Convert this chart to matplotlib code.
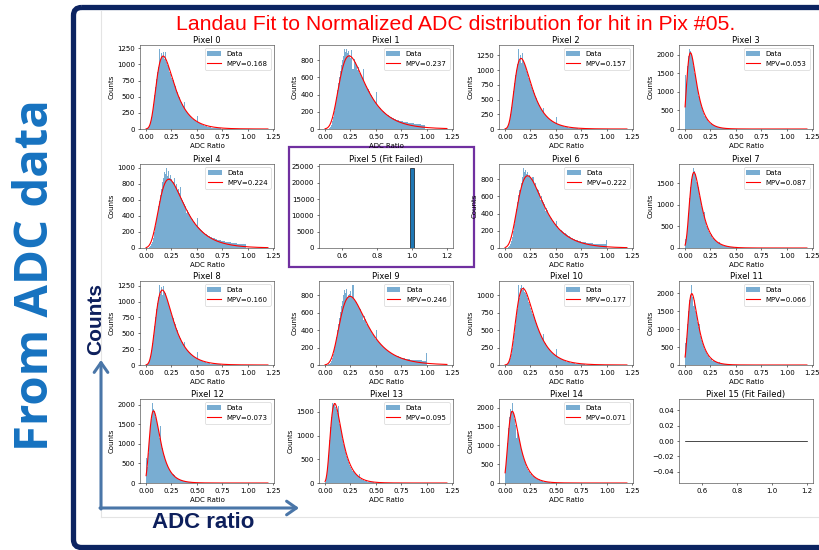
import numpy as np
import matplotlib
matplotlib.use("Agg")
import matplotlib.pyplot as plt
from matplotlib.patches import Rectangle, FancyBboxPatch
from matplotlib.ticker import MultipleLocator

# ---------------------------------------------------------------- data
# Normalized ADC ratio histograms, 100 bins of width 0.01 starting at 0.
bin_width = 0.01

counts_pix00 = [4, 10, 30, 60, 110, 185, 270, 395, 520, 650, 770, 880, 960, 1240, 1060, 1180, 1120, 1190, 1090, 1200,
                1040, 990, 960, 880, 860, 790, 760, 690, 660, 600, 570, 510, 490, 440, 420, 380, 360, 420, 300, 280,
                255, 230, 210, 200, 175, 160, 150, 140, 125, 115, 200, 95, 88, 80, 72, 64, 58, 52, 46, 41,
                37, 33, 29, 26, 23, 20, 18, 16, 14, 12, 11, 10, 9, 8, 7, 6, 5, 5, 4, 4,
                3, 3, 3, 2, 2, 2, 2, 1, 1, 1, 1, 1, 1, 1]
counts_pix01 = [0, 0, 2, 5, 12, 25, 50, 90, 140, 210, 290, 370, 450, 530, 600, 670, 740, 800, 850, 930,
                900, 930, 880, 910, 860, 830, 920, 700, 810, 780, 740, 690, 720, 650, 640, 600, 590, 700, 540, 520,
                500, 470, 460, 440, 400, 390, 370, 350, 330, 310, 430, 280, 270, 250, 240, 225, 215, 205, 195, 185,
                175, 168, 160, 152, 145, 138, 132, 126, 120, 115, 110, 106, 102, 98, 95, 92, 89, 86, 84, 82,
                80, 77, 75, 73, 71, 69, 67, 65, 63, 61, 59, 57, 55, 53, 51, 49, 47, 45]
counts_pix02 = [4, 17, 40, 80, 150, 250, 370, 500, 650, 790, 920, 1010, 1100, 1360, 1150, 1250, 1120, 1300, 1150, 1120,
                1050, 990, 940, 870, 830, 760, 720, 660, 620, 560, 530, 470, 440, 410, 360, 340, 310, 350, 260, 240,
                220, 200, 185, 170, 155, 145, 130, 120, 110, 100, 200, 82, 74, 66, 60, 54, 48, 43, 38, 34,
                30, 27, 24, 21, 19, 17, 15, 13, 12, 11, 10, 9, 8, 7, 6, 6, 5, 5, 4, 4,
                3, 3, 3, 2, 2, 2, 2, 1, 1, 1, 1, 1, 1, 1]
counts_pix03 = [1450, 1150, 1700, 1950, 2150, 2100, 1980, 1900, 1700, 1500, 1450, 1250, 1100, 880, 800, 700, 580, 500, 420, 360,
                310, 265, 230, 195, 170, 145, 160, 105, 90, 78, 66, 57, 49, 60, 36, 30, 26, 22, 19, 16,
                13, 11, 10, 8, 7, 6, 5, 4, 4, 3, 3, 2, 2, 1, 1]
counts_pix04 = [0, 1, 4, 10, 22, 45, 80, 130, 195, 270, 350, 430, 520, 590, 660, 740, 820, 880, 950, 920,
                1000, 900, 960, 880, 910, 860, 830, 870, 760, 800, 720, 740, 690, 760, 620, 600, 580, 550, 530, 440,
                470, 450, 420, 400, 380, 360, 340, 320, 300, 285, 380, 260, 245, 232, 220, 208, 198, 188, 178, 170,
                162, 155, 148, 142, 136, 130, 125, 120, 115, 110, 106, 102, 98, 95, 92, 89, 86, 83, 80, 78,
                76, 74, 72, 70, 68, 66, 64, 62, 60, 58, 56, 55, 54, 52, 51, 50, 49, 48]
counts_pix06 = [0, 1, 4, 10, 22, 45, 80, 130, 200, 280, 360, 450, 540, 620, 680, 660, 760, 820, 930, 880,
                910, 860, 880, 840, 850, 820, 800, 830, 740, 760, 700, 690, 680, 640, 560, 600, 560, 540, 510, 430,
                460, 440, 400, 380, 360, 345, 330, 310, 290, 275, 310, 250, 238, 225, 215, 205, 195, 186, 178, 170,
                160, 150, 142, 134, 127, 120, 114, 108, 102, 97, 92, 88, 84, 80, 77, 74, 71, 68, 66, 64,
                62, 60, 58, 56, 55, 54, 53, 52, 51, 50, 49, 48, 47, 46, 45, 44, 43, 42, 41, 95]
counts_pix07 = [200, 280, 520, 820, 1150, 1420, 1600, 1700, 1850, 1780, 1700, 1520, 1460, 1400, 1200, 1100, 980, 880, 760, 830,
                610, 520, 460, 400, 345, 300, 330, 230, 200, 175, 150, 130, 115, 140, 88, 76, 66, 57, 49, 42,
                36, 31, 27, 23, 20, 17, 15, 13, 11, 9, 8, 7, 6, 5, 4, 3]
counts_pix08 = [3, 14, 35, 70, 135, 230, 345, 470, 610, 750, 880, 980, 1070, 1260, 1120, 1230, 1100, 1250, 1150, 1130,
                1060, 1010, 960, 890, 850, 780, 740, 680, 640, 580, 550, 490, 460, 430, 380, 355, 325, 370, 275, 255,
                235, 215, 198, 182, 166, 154, 140, 128, 118, 108, 210, 90, 81, 73, 66, 59, 53, 47, 42, 37,
                33, 30, 26, 23, 21, 19, 17, 15, 13, 12, 11, 10, 9, 8, 7, 6, 5, 5, 4, 4,
                3, 3, 3, 2, 2, 2, 2, 1, 1, 1, 1, 1, 1, 1]
counts_pix09 = [0, 1, 3, 7, 15, 28, 50, 85, 130, 185, 250, 320, 400, 470, 540, 610, 680, 740, 800, 860,
                830, 870, 780, 800, 820, 850, 780, 920, 760, 740, 720, 700, 680, 660, 640, 600, 580, 520, 560, 530,
                470, 460, 440, 420, 400, 380, 360, 340, 320, 300, 400, 280, 265, 250, 238, 226, 214, 203, 193, 183,
                174, 165, 157, 149, 142, 135, 129, 123, 117, 112, 107, 102, 98, 94, 90, 86, 83, 80, 77, 74,
                71, 69, 67, 65, 63, 61, 60, 59, 58, 57, 56, 55, 54, 53, 52, 51, 50, 49, 48, 140]
counts_pix10 = [2, 6, 15, 32, 60, 105, 165, 245, 345, 460, 580, 700, 810, 1150, 960, 1100, 1150, 1080, 1120, 1050,
                1030, 1000, 960, 910, 870, 820, 780, 740, 690, 650, 600, 560, 520, 480, 450, 420, 390, 450, 330, 310,
                285, 262, 242, 225, 207, 192, 178, 165, 152, 140, 230, 118, 108, 99, 90, 82, 74, 67, 61, 55,
                50, 45, 41, 37, 33, 30, 27, 24, 22, 20, 18, 16, 14, 13, 12, 11, 10, 9, 8, 7,
                6, 6, 5, 5, 4, 4, 3, 3, 3, 2, 2, 2, 2, 1, 1, 1]
counts_pix11 = [600, 750, 1150, 1500, 1800, 1950, 2230, 1900, 1650, 1800, 1500, 1380, 1200, 1050, 1150, 800, 700, 600, 520, 440,
                380, 330, 280, 240, 200, 175, 190, 125, 108, 92, 79, 67, 57, 70, 41, 35, 30, 25, 21, 18,
                15, 13, 11, 9, 8, 7, 6, 5, 4, 3, 3, 2, 2, 1]
counts_pix12 = [650, 420, 780, 1150, 1450, 1650, 2050, 1900, 1850, 1700, 1600, 1480, 1380, 1150, 1450, 1000, 900, 780, 690, 600,
                520, 450, 390, 340, 300, 260, 225, 195, 165, 140, 120, 105, 90, 78, 66, 57, 49, 42, 36, 31,
                26, 22, 19, 16, 14, 12, 10, 8, 7, 6, 5, 4, 3, 2, 2]
counts_pix13 = [30, 120, 320, 600, 900, 1180, 1400, 1690, 1650, 1690, 1600, 1560, 1480, 1620, 1250, 1200, 1050, 920, 820, 750,
                660, 570, 500, 440, 380, 340, 290, 250, 220, 190, 160, 140, 120, 200, 88, 75, 65, 55, 47, 40,
                34, 29, 25, 21, 18, 15, 13, 11, 9, 8, 6, 5, 4, 3, 2]
counts_pix14 = [350, 700, 1050, 1450, 1750, 1950, 1900, 2120, 1850, 1700, 1550, 1200, 1350, 1250, 1100, 1000, 870, 760, 660, 580,
                500, 430, 370, 320, 280, 240, 260, 175, 150, 130, 112, 96, 83, 100, 60, 52, 44, 38, 32, 27,
                23, 19, 16, 14, 12, 10, 8, 7, 6, 5, 4, 3, 2, 1]

# Pixel 5: every hit sits at ratio 1.0, so only one bin is filled
pix05_ratio = 1.0
pix05_count = 24500
pix05_bin_width = 0.02

# Landau (Moyal form) fit results per pixel: most probable value, width, peak height
fit_mpv = [0.168, 0.237, 0.157, 0.053, 0.224, None, 0.222, 0.087,
           0.160, 0.246, 0.177, 0.066, 0.073, 0.095, 0.071, None]
fit_eta = [0.060, 0.087, 0.057, 0.0325, 0.085, None, 0.085, 0.038,
           0.058, 0.090, 0.062, 0.033, 0.036, 0.039, 0.037, None]
fit_peak = [1130, 850, 1200, 2050, 860, None, 840, 1750,
            1180, 790, 1100, 1990, 1850, 1680, 1900, None]

pixel_counts = [counts_pix00, counts_pix01, counts_pix02, counts_pix03, counts_pix04, None,
                counts_pix06, counts_pix07, counts_pix08, counts_pix09, counts_pix10, counts_pix11,
                counts_pix12, counts_pix13, counts_pix14, None]

fit_x_range = (0.0, 1.2)
failed_x_range = (0.5, 1.2)

TITLE = "Landau Fit to Normalized ADC distribution for hit in Pix #05."

# ---------------------------------------------------------------- style
W, H = 820, 550
s = 0.5  # the panel grid is a shrunken matplotlib figure
plt.rcParams.update({
    "font.family": ["DejaVu Sans"],
    "font.size": 10 * s,
    "axes.titlesize": 12 * s,
    "axes.titlepad": 1.6,
    "axes.labelpad": 4 * s,
    "axes.linewidth": 0.8 * s,
    "axes.edgecolor": "#333333",
    "xtick.major.size": 3.5 * s,
    "ytick.major.size": 3.5 * s,
    "xtick.major.width": 0.8 * s,
    "ytick.major.width": 0.8 * s,
    "xtick.major.pad": 3.5 * s,
    "ytick.major.pad": 3.5 * s,
    "patch.linewidth": 1.0 * s,
    "lines.linewidth": 1.5 * s,
    "legend.fontsize": 10 * s,
})

fig = plt.figure(figsize=(W / 100, H / 100), dpi=100)
fig.patch.set_facecolor("white")


def px_rect(left, top, width, height):
    return [left / W, 1 - (top + height) / H, width / W, height / H]


def landau(x, peak, mpv, eta):
    lam = (x - mpv) / eta
    amp = peak * np.exp(0.5)
    return amp * np.exp(-0.5 * (lam + np.exp(-lam)))


# slide decoration layer in pixel coordinates
deco = fig.add_axes([0, 0, 1, 1], zorder=0)
deco.set_xlim(0, W)
deco.set_ylim(H, 0)
deco.axis("off")

navy = "#0c2461"
frame = FancyBboxPatch((73.5, 7.5), 780, 540, boxstyle="round,pad=0,rounding_size=8",
                       fill=False, edgecolor=navy, linewidth=3.8)
deco.add_patch(frame)
deco.plot([101.5, 101.5], [11, 517], color="#e4e4e4", lw=0.8)
deco.plot([101.5, 820], [517, 517], color="#e4e4e4", lw=0.8)

deco.text(36, 275, "From ADC data", rotation=90, ha="center", va="center",
          fontsize=34, fontweight="bold", color="#1672c0", family=["Open Sans", "DejaVu Sans"])
deco.text(456, 30, TITLE, ha="center", va="baseline", fontsize=15.3, color="#ff0000",
          family=["Liberation Sans", "DejaVu Sans"])

arrow_col = "#4a76a8"
arrow_kw = dict(arrowstyle="->,head_length=0.5,head_width=0.35", color=arrow_col, lw=2.2,
                shrinkA=0, shrinkB=0, mutation_scale=14)
deco.annotate("", xy=(101, 360), xytext=(101, 509), arrowprops=arrow_kw)
deco.annotate("", xy=(299, 508), xytext=(100, 508), arrowprops=arrow_kw)
deco.text(96, 319, "Counts", rotation=90, ha="center", va="center", fontsize=15,
          fontweight="bold", color="#0d1f5c", family=["Liberation Sans", "DejaVu Sans"])
deco.text(203, 522, "ADC ratio", ha="center", va="center", fontsize=16,
          fontweight="bold", color="#0d1f5c", family=["Liberation Sans", "DejaVu Sans"])

deco.add_patch(Rectangle((289, 147), 185, 120, fill=False, edgecolor="#7030a0", linewidth=1.6))

# ---------------------------------------------------------------- panels
col_left = [140, 319, 499, 679]
row_top = [45, 164, 281, 399]
ax_w, ax_h = 134, 84

hist_color = "#79add2"   # tab:blue at 60 % opacity on white
fit_x = np.linspace(fit_x_range[0], fit_x_range[1], 600)

for pid in range(16):
    r, c = divmod(pid, 4)
    ax = fig.add_axes(px_rect(col_left[c], row_top[r], ax_w, ax_h), zorder=2)
    data = pixel_counts[pid]
    if pid == 5:
        ax.bar([pix05_ratio], [pix05_count], width=pix05_bin_width, color="#1f77b4",
               edgecolor="black", linewidth=0.45)
        ax.set_xlim(0.465, 1.235)
        ax.xaxis.set_major_locator(MultipleLocator(0.2))
        ax.set_title("Pixel 5 (Fit Failed)")
        continue
    if data is None:
        ax.plot(list(failed_x_range), [0, 0], color="black", lw=0.5)
        ax.xaxis.set_major_locator(MultipleLocator(0.2))
        ax.set_title(f"Pixel {pid} (Fit Failed)")
        continue
    edges = np.arange(len(data)) * bin_width
    bars = ax.bar(edges, data, width=bin_width, align="edge", color=hist_color,
                  linewidth=0, antialiased=False)
    line, = ax.plot(fit_x, landau(fit_x, fit_peak[pid], fit_mpv[pid], fit_eta[pid]),
                    color="red", lw=0.8)
    ax.xaxis.set_major_locator(MultipleLocator(0.25))
    ax.legend([bars, line], ["Data", f"MPV={fit_mpv[pid]:.3f}"], loc="upper right")
    ax.set_title(f"Pixel {pid}")
    ax.set_xlabel("ADC Ratio")
    ax.set_ylabel("Counts")

fig.savefig("out.png", dpi=100, facecolor="white")
